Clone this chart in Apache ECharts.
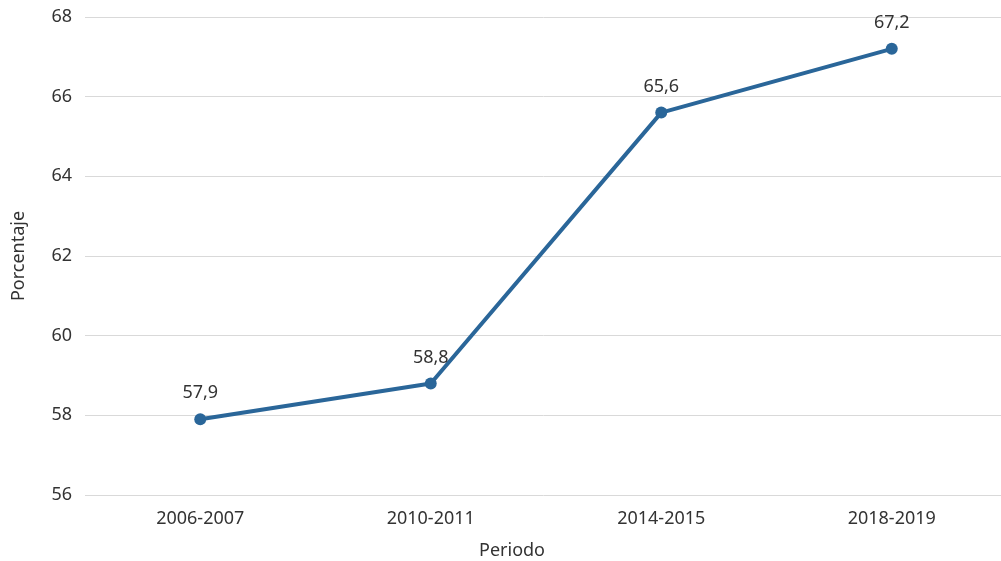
<!DOCTYPE html>
<html>
<head>
<meta charset="utf-8">
<script src="https://cdn.jsdelivr.net/npm/echarts@6/dist/echarts.min.js"></script>
<style>html,body{margin:0;padding:0;background:#fff}#c{width:1001px;height:561px}</style>
</head>
<body>
<div id="c"></div>
<script>
const categories = ["2006-2007", "2010-2011", "2014-2015", "2018-2019"];
const values = [57.9, 58.8, 65.6, 67.2];
const yMin = 56, yMax = 68, yStep = 2;
const xTitle = "Periodo";
const yTitle = "Porcentaje";

const font = "'Noto Sans', 'Open Sans', sans-serif";
const chart = echarts.init(document.getElementById('c'));
chart.setOption({
  animation: false,
  grid: { left: 85, right: -6, top: 17, bottom: 66, containLabel: false, outerBoundsMode: 'none' },
  xAxis: {
    type: 'category', data: categories, boundaryGap: true,
    axisLine: { show: false }, axisTick: { show: false },
    axisLabel: { color: '#333', fontSize: 18, fontFamily: font, margin: 15 },
    name: xTitle, nameLocation: 'middle', nameGap: 47,
    nameTextStyle: { color: '#333', fontSize: 18, fontFamily: font, padding: [0, 68, 0, 0] }
  },
  yAxis: {
    type: 'value', min: yMin, max: yMax, interval: yStep,
    axisLine: { show: false }, axisTick: { show: false },
    axisLabel: { color: '#333', fontSize: 18, fontFamily: font, margin: 13 },
    splitLine: { lineStyle: { color: '#d9d9d9', width: 1 } },
    name: yTitle, nameLocation: 'middle', nameGap: 57,
    nameTextStyle: { color: '#333', fontSize: 18, fontFamily: font }
  },
  series: [{
    type: 'line', data: values,
    lineStyle: { color: '#2a6699', width: 4 },
    itemStyle: { color: '#2a6699' },
    symbol: 'circle', symbolSize: 12,
    label: {
      show: true, position: 'top', distance: 11,
      color: '#333', fontSize: 18, fontFamily: font,
      formatter: p => String(p.value).replace('.', ',')
    }
  }]
});
</script>
</body>
</html>
